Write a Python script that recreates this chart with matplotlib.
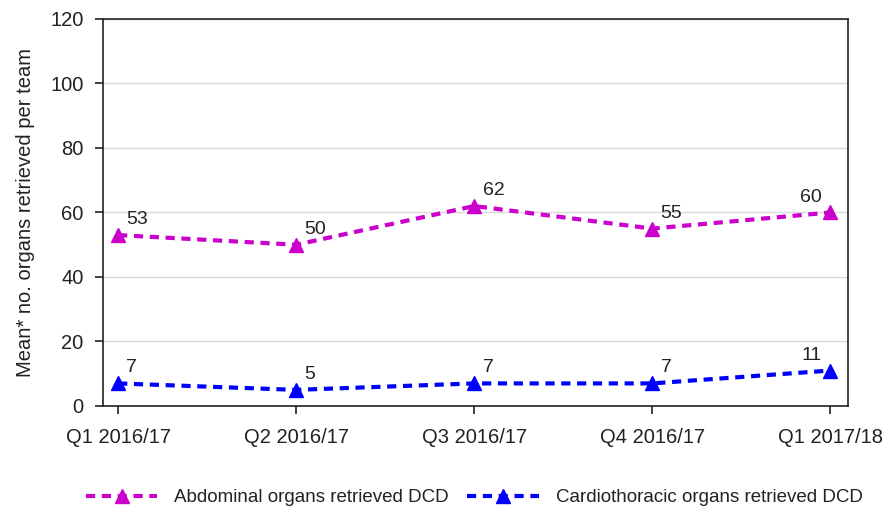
import matplotlib
matplotlib.use("Agg")
import matplotlib.pyplot as plt

plt.rcParams['font.family'] = ['Liberation Sans', 'DejaVu Sans']

quarters = ['Q1 2016/17', 'Q2 2016/17', 'Q3 2016/17', 'Q4 2016/17', 'Q1 2017/18']
abdominal = [53, 50, 62, 55, 60]
cardiothoracic = [7, 5, 7, 7, 11]

MAGENTA = '#CC00CC'
BLUE = '#0000FF'
TEXT = '#222222'

fig = plt.figure(figsize=(8.88, 5.13), dpi=100)
ax = fig.add_axes([0.116, 0.2086, 0.839, 0.7544])

x = list(range(len(quarters)))
dash = (0, (2.2, 1.6))
ax.plot(x, abdominal, color=MAGENTA, linestyle=dash, linewidth=3,
        marker='^', markersize=10, label='Abdominal organs retrieved DCD')
ax.plot(x, cardiothoracic, color=BLUE, linestyle=dash, linewidth=3,
        marker='^', markersize=10, label='Cardiothoracic organs retrieved DCD')

# value labels, last point labelled on the left
for i, (a, c) in enumerate(zip(abdominal, cardiothoracic)):
    if i == len(x) - 1:
        off, ha = (-6, 5), 'right'
    else:
        off, ha = (6, 5), 'left'
    for v in (a, c):
        ax.annotate(str(v), (i, v), xytext=off, textcoords='offset points',
                    ha=ha, va='bottom', fontsize=14, color=TEXT)

ax.set_xlim(-0.085, 4.1)
ax.set_ylim(0, 120)
ax.set_yticks(range(0, 121, 20))
ax.set_xticks(x)
ax.set_xticklabels(quarters)
ax.tick_params(labelsize=14.5, length=6, width=1.2, colors=TEXT)
ax.tick_params(axis='x', pad=10)
ax.tick_params(axis='y', pad=8)
ax.grid(axis='y', color='#DADADA', linewidth=1)
ax.set_axisbelow(True)
for s in ax.spines.values():
    s.set_linewidth(1.2)
    s.set_color(TEXT)

ax.set_ylabel('Mean* no. organs retrieved per team', fontsize=14.5,
              color=TEXT, labelpad=11)

fig.legend(loc='lower center', bbox_to_anchor=(0.534, -0.02), ncol=2, frameon=False,
           fontsize=13.5, handlelength=3.8, handletextpad=0.9, columnspacing=1.0,
           labelcolor=TEXT)

fig.savefig('out.png', dpi=100)
